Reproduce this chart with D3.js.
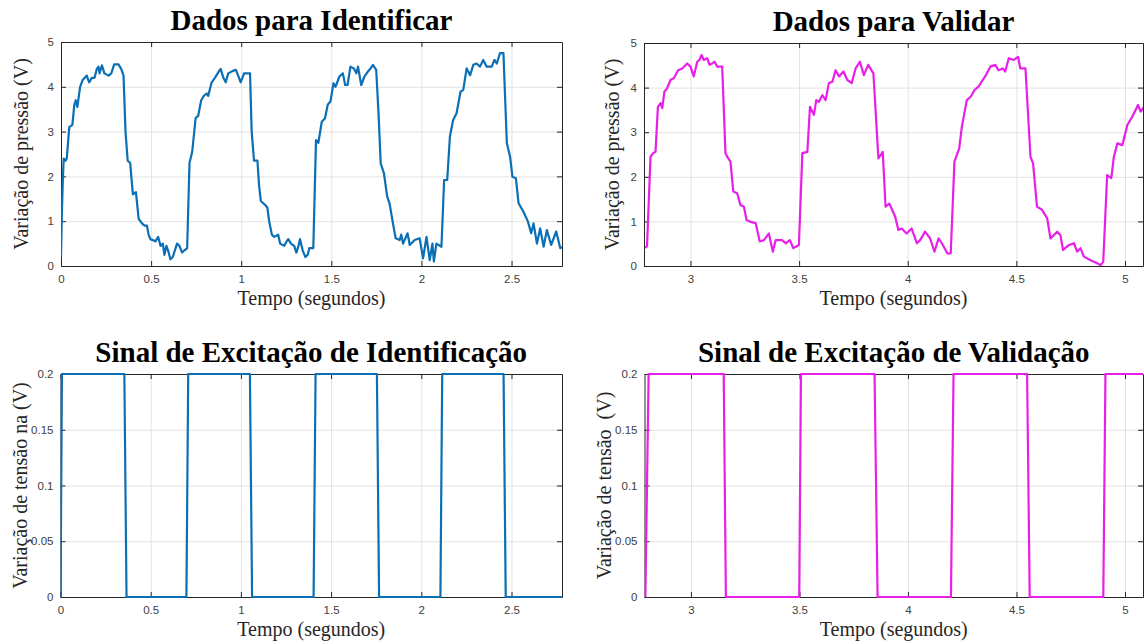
<!DOCTYPE html>
<html>
<head>
<meta charset="utf-8">
<script src="https://cdn.jsdelivr.net/npm/d3@7/dist/d3.min.js"></script>
<style>
  body { margin: 0; background: #fff; }
  svg { display: block; }
</style>
</head>
<body>
<svg id="chart" width="1144" height="644"></svg>
<script>
// ---- dados ----
const idTime = [0, 0.005, 0.01, 0.015, 0.025, 0.032, 0.046, 0.063, 0.074, 0.082, 0.091, 0.106, 0.12, 0.143, 0.156, 0.171, 0.186, 0.199, 0.208, 0.214, 0.227, 0.241, 0.264, 0.279, 0.295, 0.319, 0.334, 0.347, 0.358, 0.37, 0.384, 0.39, 0.399, 0.416, 0.422, 0.431, 0.449, 0.464, 0.477, 0.486, 0.496, 0.524, 0.539, 0.552, 0.565, 0.574, 0.585, 0.594, 0.607, 0.62, 0.644, 0.657, 0.672, 0.685, 0.7,
  0.713, 0.728, 0.747, 0.761, 0.778, 0.793, 0.808, 0.817, 0.836, 0.854, 0.877, 0.886, 0.901, 0.914, 0.928, 0.951, 0.97, 0.988, 0.997, 1.016, 1.049, 1.058, 1.071, 1.09, 1.099, 1.109, 1.136, 1.145, 1.155, 1.17, 1.183, 1.205, 1.216, 1.239, 1.252, 1.261, 1.276, 1.294, 1.306, 1.318, 1.326, 1.341, 1.356, 1.369, 1.378, 1.4,
  1.415, 1.428, 1.447, 1.465, 1.48, 1.495, 1.512, 1.523, 1.545, 1.564, 1.577, 1.59, 1.606, 1.625, 1.639, 1.648, 1.666, 1.684, 1.703, 1.718, 1.731, 1.749, 1.762, 1.774, 1.792, 1.81, 1.823, 1.842, 1.857, 1.879, 1.888, 1.898, 1.923, 1.935, 1.963, 1.99, 2.009, 2.028, 2.046, 2.061, 2.069, 2.083, 2.111,
  2.126, 2.143, 2.158, 2.176, 2.195, 2.217, 2.232, 2.251, 2.27, 2.288, 2.306, 2.325, 2.343, 2.362, 2.39, 2.405, 2.418, 2.436, 2.455, 2.474, 2.492, 2.505, 2.524, 2.539, 2.566, 2.591, 2.609, 2.622, 2.641, 2.659, 2.678, 2.696, 2.72, 2.748, 2.77, 2.79];
const idPressure = [0.2, 1.2, 1.9, 2.4, 2.35, 2.4, 3.1, 3.15, 3.6, 3.7, 3.55, 4.0, 4.15, 4.25, 4.1, 4.2, 4.2, 4.4, 4.45, 4.3, 4.48, 4.3, 4.25, 4.3, 4.5, 4.5, 4.4, 4.25, 3.0, 2.35, 2.3, 2.0, 1.6, 1.65, 1.4, 1.05, 0.95, 0.9, 0.9, 0.7, 0.6, 0.55, 0.65, 0.45, 0.5, 0.25, 0.45, 0.35, 0.15, 0.2, 0.5, 0.45, 0.3, 0.35, 0.4,
  2.3, 2.55, 3.3, 3.35, 3.7, 3.8, 3.85, 3.8, 4.1, 4.2, 4.35, 4.4, 4.2, 4.1, 4.3, 4.35, 4.38, 4.2, 4.1, 4.3, 4.3, 3.0, 2.35, 2.35, 1.8, 1.45, 1.35, 1.3, 1.0, 0.7, 0.65, 0.7, 0.5, 0.45, 0.55, 0.6, 0.5, 0.45, 0.3, 0.45, 0.6, 0.35, 0.2, 0.25, 0.4, 0.4,
  2.81, 2.75, 3.22, 3.3, 3.6, 3.67, 4.08, 4.0, 4.23, 4.3, 4.04, 4.04, 4.45, 4.41, 4.3, 4.45, 4.04, 4.23, 4.34, 4.41, 4.49, 4.38, 3.4, 2.29, 2.07, 1.55, 1.4, 0.95, 0.62, 0.58, 0.7, 0.5, 0.73, 0.47, 0.58, 0.62, 0.17, 0.65, 0.13, 0.5, 0.1, 0.5, 0.43,
  1.92, 1.92, 2.89, 3.26, 3.41, 3.89, 3.93, 4.41, 4.26, 4.49, 4.52, 4.45, 4.6, 4.45, 4.45, 4.6, 4.52, 4.75, 4.75, 2.74, 2.44, 1.99, 1.96, 1.4, 1.21, 0.99, 0.73, 0.95, 0.5, 0.84, 0.43, 0.8, 0.47, 0.77, 0.4, 0.43];

const valTime = [2.793, 2.8, 2.816, 2.828, 2.839, 2.85, 2.862, 2.87, 2.88, 2.892, 2.908, 2.923, 2.943, 2.962, 2.985, 3.0, 3.015, 3.031, 3.041, 3.051, 3.061, 3.077, 3.088, 3.1, 3.111, 3.123, 3.146,
  3.161, 3.169, 3.184, 3.197, 3.215, 3.23, 3.246, 3.258, 3.276, 3.3, 3.319, 3.338, 3.361, 3.379, 3.392, 3.422, 3.438, 3.458, 3.473, 3.499,
  3.515, 3.538, 3.55, 3.568, 3.579, 3.591, 3.607, 3.622, 3.637, 3.653, 3.668, 3.684, 3.704, 3.722, 3.742, 3.76, 3.78, 3.798, 3.818, 3.842,
  3.865, 3.885, 3.898, 3.915, 3.942, 3.957, 3.972, 3.995, 4.018, 4.042, 4.057, 4.08, 4.103, 4.123, 4.142, 4.157, 4.183, 4.198,
  4.215, 4.237, 4.249, 4.272, 4.291, 4.308, 4.326, 4.345, 4.36, 4.38, 4.403, 4.418, 4.438, 4.449, 4.465, 4.488, 4.508, 4.518, 4.542,
  4.565, 4.577, 4.595, 4.618, 4.642, 4.657, 4.688, 4.703, 4.715, 4.742, 4.765, 4.78, 4.795, 4.811, 4.842, 4.872, 4.888, 4.9,
  4.918, 4.937, 4.949, 4.965, 4.988, 5.011, 5.034, 5.049, 5.06, 5.072, 5.088];
const valPressure = [0.4, 0.45, 2.45, 2.53, 2.56, 3.57, 3.65, 3.54, 3.91, 3.98, 4.17, 4.21, 4.39, 4.43, 4.54, 4.47, 4.25, 4.58, 4.62, 4.73, 4.62, 4.66, 4.51, 4.54, 4.58, 4.47, 4.47,
  2.53, 2.45, 2.34, 1.67, 1.63, 1.37, 1.33, 1.03, 0.99, 0.96, 0.55, 0.58, 0.73, 0.32, 0.58, 0.58, 0.51, 0.58, 0.4, 0.47,
  2.53, 2.56, 3.57, 3.39, 3.72, 3.68, 3.83, 3.72, 4.1, 4.13, 4.39, 4.25, 4.36, 4.17, 4.1, 4.43, 4.58, 4.28, 4.51, 4.32,
  2.41, 2.56, 1.33, 1.4, 1.11, 0.81, 0.84, 0.73, 0.84, 0.51, 0.58, 0.77, 0.62, 0.32, 0.62, 0.51, 0.28, 0.28,
  2.34, 2.64, 3.12, 3.72, 3.8, 3.95, 4.02, 4.17, 4.28, 4.47, 4.51, 4.39, 4.43, 4.36, 4.66, 4.62, 4.69, 4.43, 4.43,
  2.45, 2.3, 1.33, 1.26, 1.07, 0.62, 0.77, 0.69, 0.36, 0.47, 0.51, 0.32, 0.4, 0.21, 0.13, 0.06, 0.02, 0.1,
  2.04, 1.97, 2.45, 2.75, 2.71, 3.16, 3.35, 3.5, 3.61, 3.46, 3.57];

// sinais de excitação (cantos da onda quadrada)
const idExcTime = [0, 0.008, 0.354, 0.366, 0.698, 0.708, 1.05, 1.062, 1.403, 1.414, 1.754, 1.766, 2.106, 2.116, 2.456, 2.468, 2.78];
const idExcVolt = [0, 0.2, 0.2, 0, 0, 0.2, 0.2, 0, 0, 0.2, 0.2, 0, 0, 0.2, 0.2, 0, 0];
const valExcTime = [2.79, 2.805, 3.151, 3.161, 3.499, 3.507, 3.846, 3.86, 4.198, 4.21, 4.549, 4.561, 4.9, 4.91, 5.1];
const valExcVolt = [0, 0.2, 0.2, 0, 0, 0.2, 0.2, 0, 0, 0.2, 0.2, 0, 0, 0.2, 0.2];

const idXTicks = [0, 0.5, 1, 1.5, 2, 2.5];
const valXTicks = [3, 3.5, 4, 4.5, 5];
const pressureTicks = [0, 1, 2, 3, 4, 5];
const voltTicks = [0, 0.05, 0.1, 0.15, 0.2];

const BLUE = '#0a6fb5';
const MAGENTA = '#e81fe8';

const svg = d3.select('#chart');

// desenha um painel estilo MATLAB
function drawPanel(p, idx) {
    const x = d3.scaleLinear().domain(p.xDomain).range([p.left, p.right]);
    const y = d3.scaleLinear().domain(p.yDomain).range([p.bottom, p.top]);
    const g = svg.append('g');

    // clip só na horizontal (a linha pode cobrir a borda em 0 e no topo)
    svg.append('clipPath').attr('id', 'clip' + idx)
        .append('rect')
        .attr('x', p.left).attr('y', p.top - 4)
        .attr('width', p.right - p.left).attr('height', p.bottom - p.top + 8);

    // grade
    g.append('g')
        .attr('transform', `translate(0,${p.bottom})`)
        .call(d3.axisBottom(x).tickValues(p.xTicks).tickSize(-(p.bottom - p.top)).tickFormat(''))
        .call(a => a.select('.domain').remove())
        .call(a => a.selectAll('line').attr('stroke', '#e2e2e2'));
    g.append('g')
        .attr('transform', `translate(${p.left},0)`)
        .call(d3.axisLeft(y).tickValues(p.yTicks).tickSize(-(p.right - p.left)).tickFormat(''))
        .call(a => a.select('.domain').remove())
        .call(a => a.selectAll('line').attr('stroke', '#e2e2e2'));

    // eixos (ticks para dentro nos quatro lados)
    const tl = 5;
    const fmt = d => String(d);
    const styleAxis = a => {
        a.select('.domain').attr('stroke', '#262626');
        a.selectAll('.tick line').attr('stroke', '#262626');
        a.selectAll('text').attr('fill', '#404040')
            .style('font-family', '"Liberation Sans", Arial, sans-serif')
            .style('font-size', '11.5px');
    };
    g.append('g').attr('transform', `translate(0,${p.bottom})`)
        .call(d3.axisBottom(x).tickValues(p.xTicks).tickSizeInner(-tl).tickSizeOuter(0).tickPadding(9).tickFormat(fmt))
        .call(styleAxis);
    g.append('g').attr('transform', `translate(0,${p.top})`)
        .call(d3.axisTop(x).tickValues(p.xTicks).tickSizeInner(-tl).tickSizeOuter(0).tickFormat(''))
        .call(styleAxis);
    g.append('g').attr('transform', `translate(${p.left},0)`)
        .call(d3.axisLeft(y).tickValues(p.yTicks).tickSizeInner(-tl).tickSizeOuter(0).tickPadding(7).tickFormat(fmt))
        .call(styleAxis);
    g.append('g').attr('transform', `translate(${p.right},0)`)
        .call(d3.axisRight(y).tickValues(p.yTicks).tickSizeInner(-tl).tickSizeOuter(0).tickFormat(''))
        .call(styleAxis);

    // curva (por cima da borda, como no MATLAB)
    const pts = p.xs.map((t, i) => [t, p.ys[i]]);
    g.append('path')
        .datum(pts)
        .attr('clip-path', `url(#clip${idx})`)
        .attr('fill', 'none')
        .attr('stroke', p.color)
        .attr('stroke-width', 2.2)
        .attr('stroke-linejoin', 'round')
        .attr('d', d3.line().x(d => x(d[0])).y(d => y(d[1])));

    // textos
    const cx = (p.left + p.right) / 2;
    g.append('text')
        .attr('x', cx).attr('y', p.top - 12)
        .attr('text-anchor', 'middle')
        .style('font-family', '"Liberation Serif", "Times New Roman", serif')
        .style('font-weight', 'bold')
        .style('font-size', '29px')
        .text(p.title);
    g.append('text')
        .attr('x', cx).attr('y', p.bottom + 39)
        .attr('text-anchor', 'middle')
        .style('font-family', '"Liberation Serif", "Times New Roman", serif')
        .style('font-size', '20px')
        .attr('fill', '#262626')
        .text('Tempo (segundos)');
    g.append('text')
        .attr('transform', `translate(${p.ylabelX},${(p.top + p.bottom) / 2}) rotate(-90)`)
        .attr('text-anchor', 'middle')
        .attr('dy', '0.35em')
        .style('font-family', '"Liberation Serif", "Times New Roman", serif')
        .style('font-size', '20px')
        .attr('fill', '#262626')
        .style('white-space', 'pre')
        .text(p.ylabel);
}

const panels = [
    { title: 'Dados para Identificar', ylabel: 'Variação de pressão (V)', xs: idTime, ys: idPressure, color: BLUE,
      left: 61, right: 562, top: 42, bottom: 266, xDomain: [0, 2.78], yDomain: [0, 5],
      xTicks: idXTicks, yTicks: pressureTicks, ylabelX: 21 },
    { title: 'Dados para Validar', ylabel: 'Variação de pressão (V)', xs: valTime, ys: valPressure, color: MAGENTA,
      left: 644, right: 1143, top: 43, bottom: 266, xDomain: [2.786, 5.083], yDomain: [0, 5],
      xTicks: valXTicks, yTicks: pressureTicks, ylabelX: 612 },
    { title: 'Sinal de Excitação de Identificação', ylabel: 'Variação de tensão na (V)', xs: idExcTime, ys: idExcVolt, color: BLUE,
      left: 60.5, right: 562, top: 374, bottom: 597, xDomain: [0, 2.78], yDomain: [0, 0.2],
      xTicks: idXTicks, yTicks: voltTicks, ylabelX: 20 },
    { title: 'Sinal de Excitação de Validação', ylabel: 'Variação de tensão  (V)', xs: valExcTime, ys: valExcVolt, color: MAGENTA,
      left: 644.5, right: 1143, top: 374, bottom: 597, xDomain: [2.786, 5.083], yDomain: [0, 0.2],
      xTicks: valXTicks, yTicks: voltTicks, ylabelX: 604 }
];

panels.forEach(drawPanel);
</script>
</body>
</html>
